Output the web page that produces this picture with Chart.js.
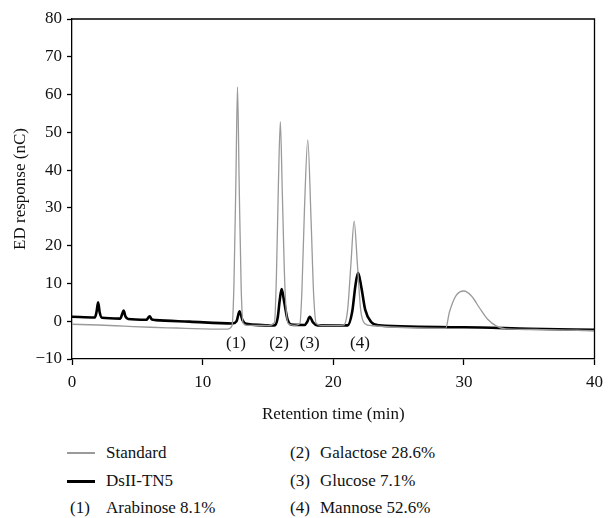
<!DOCTYPE html>
<html>
<head>
<meta charset="utf-8">
<script src="https://cdn.jsdelivr.net/npm/chart.js@4/dist/chart.umd.min.js"></script>
<style>
  html, body { margin: 0; padding: 0; background: #fff; }
  body { width: 610px; height: 518px; position: relative; overflow: hidden; font-family: "Liberation Serif", "DejaVu Serif", serif; color: #111; }
  #wrap { position: absolute; left: 0; top: 0; width: 610px; height: 430px; }
  .lg { position: absolute; font-size: 17px; line-height: 20px; white-space: nowrap; }
  .sw { position: absolute; height: 0; width: 28px; }
</style>
</head>
<body>
<div id="wrap"><canvas id="c" width="610" height="430"></canvas></div>

<div class="sw" style="left:67px; top:452px; border-top:2px solid #9a9a9a;"></div>
<div class="lg" style="left:106px; top:443px;">Standard</div>
<div class="sw" style="left:67px; top:480px; border-top:3px solid #000;"></div>
<div class="lg" style="left:106px; top:471px;">DsII-TN5</div>
<div class="lg" style="left:70px; top:498px;">(1)</div>
<div class="lg" style="left:106px; top:498px;">Arabinose 8.1%</div>
<div class="lg" style="left:290px; top:443px;">(2)</div>
<div class="lg" style="left:320px; top:443px;">Galactose 28.6%</div>
<div class="lg" style="left:290px; top:471px;">(3)</div>
<div class="lg" style="left:320px; top:471px;">Glucose 7.1%</div>
<div class="lg" style="left:290px; top:498px;">(4)</div>
<div class="lg" style="left:320px; top:498px;">Mannose 52.6%</div>

<script>
// ---- data (retention time in min, ED response in nC) ----
const standardTime = [0, 2, 4, 6, 8, 10, 11.9, 12.25, 12.4, 12.55, 12.67, 12.8, 12.95, 13.1, 13.4, 15.0, 15.5, 15.65, 15.8, 15.95, 16.1, 16.3, 16.55, 17.0, 17.45, 17.6, 17.8, 18.05, 18.3, 18.5, 18.7, 19.1, 20.8, 21.1, 21.35, 21.6, 21.85, 22.1, 22.4, 23.0, 28.6, 28.9, 29.4, 30.0, 30.6, 31.2, 31.8, 32.5, 33.2, 36, 40];
const standardValue = [-0.8, -1.0, -1.3, -1.6, -1.8, -2.0, -2.1, -1.2, 10, 38, 62, 36, 9, -0.5, -1.1, -1.1, -0.4, 12, 36, 52.8, 34, 9, -0.6, -1.1, -0.6, 8, 30, 48, 27, 7, -0.6, -1.1, -1.0, 3, 15, 26.5, 15, 3, -0.6, -1.2, -1.9, 2.5, 6.8, 8.0, 6.6, 3.5, 0.6, -1.3, -2.0, -2.2, -2.5];

const dsTime = [0, 1.75, 1.88, 2.0, 2.12, 2.3, 3.7, 3.85, 3.95, 4.1, 4.3, 5.7, 5.85, 5.95, 6.1, 6.4, 9, 12.3, 12.6, 12.82, 13.05, 13.35, 15.5, 15.75, 15.9, 16.05, 16.25, 16.5, 16.8, 17.8, 18.0, 18.2, 18.45, 18.8, 21.1, 21.45, 21.7, 21.9, 22.15, 22.45, 22.9, 23.5, 30, 35, 40];
const dsValue = [1.2, 1.0, 2.5, 5.0, 2.3, 0.9, 0.7, 2.0, 2.8, 1.2, 0.6, 0.4, 1.0, 1.3, 0.5, 0.3, -0.1, -0.6, 0.0, 2.6, 0.3, -0.7, -1.1, 1.0, 5.5, 8.5, 5.0, 0.5, -0.9, -1.0, -0.2, 1.2, -0.3, -1.1, -1.1, 2.5, 9.5, 12.8, 9.0, 3.0, -0.2, -1.1, -1.6, -2.0, -2.3];

const peakLabels = ['(1)', '(2)', '(3)', '(4)'];
const peakLabelTime = [12.55, 15.85, 18.2, 22.05];
const peakLabelValue = -5.8;

const xTicks = [0, 10, 20, 30, 40];
const yTicks = [-10, 0, 10, 20, 30, 40, 50, 60, 70, 80];

const FONT = '"Liberation Serif", "DejaVu Serif", serif';

const toPts = (t, v) => t.map((x, i) => ({ x: x, y: v[i] }));

const framePlugin = {
  id: 'frame',
  afterDraw(chart) {
    const { ctx, chartArea: a, scales } = chart;
    ctx.save();
    ctx.strokeStyle = '#000';
    ctx.lineWidth = 1.3;
    ctx.beginPath();
    ctx.moveTo(a.left, a.top);
    ctx.lineTo(a.right, a.top);
    ctx.lineTo(a.right, a.bottom);
    ctx.stroke();
    ctx.fillStyle = '#111';
    ctx.font = '17px ' + FONT;
    ctx.textAlign = 'center';
    ctx.textBaseline = 'middle';
    peakLabels.forEach((s, i) => {
      ctx.fillText(s, scales.x.getPixelForValue(peakLabelTime[i]), scales.y.getPixelForValue(peakLabelValue));
    });
    ctx.restore();
  }
};

new Chart(document.getElementById('c'), {
  type: 'line',
  data: {
    datasets: [
      { label: 'Standard', data: toPts(standardTime, standardValue), borderColor: '#9a9a9a', borderWidth: 1.3, pointRadius: 0, cubicInterpolationMode: 'monotone', fill: false },
      { label: 'DsII-TN5', data: toPts(dsTime, dsValue), borderColor: '#000', borderWidth: 2.6, pointRadius: 0, cubicInterpolationMode: 'monotone', fill: false }
    ]
  },
  options: {
    responsive: false,
    animation: false,
    devicePixelRatio: 1,
    layout: { padding: { top: 19, right: 11, left: 0, bottom: 0 } },
    plugins: { legend: { display: false }, tooltip: { enabled: false } },
    scales: {
      x: {
        type: 'linear', min: 0, max: 40,
        afterBuildTicks: s => { s.ticks = xTicks.map(v => ({ value: v })); },
        afterFit: s => { s.height = 71; },
        ticks: { color: '#111', font: { family: FONT, size: 17 }, padding: 7, maxRotation: 0 },
        grid: { display: true, drawOnChartArea: false, drawTicks: true, tickLength: 6, color: '#000', tickWidth: 1.3 },
        border: { display: true, color: '#000', width: 1.3 },
        title: { display: true, text: 'Retention time (min)', color: '#111', font: { family: FONT, size: 17 }, padding: { top: 0, bottom: 5 } }
      },
      y: {
        type: 'linear', min: -10, max: 80,
        afterBuildTicks: s => { s.ticks = yTicks.map(v => ({ value: v })); },
        afterFit: s => { s.width = 72; },
        ticks: { color: '#111', font: { family: FONT, size: 17 }, padding: 5,
                 callback: v => (v < 0 ? '\u2212' + Math.abs(v) : String(v)) },
        grid: { display: true, drawOnChartArea: false, drawTicks: true, tickLength: 5, color: '#000', tickWidth: 1.3 },
        border: { display: true, color: '#000', width: 1.3 },
        title: { display: true, text: 'ED response (nC)', color: '#111', font: { family: FONT, size: 17 }, padding: { top: 10, bottom: 0 } }
      }
    }
  },
  plugins: [framePlugin]
});
</script>
</body>
</html>
